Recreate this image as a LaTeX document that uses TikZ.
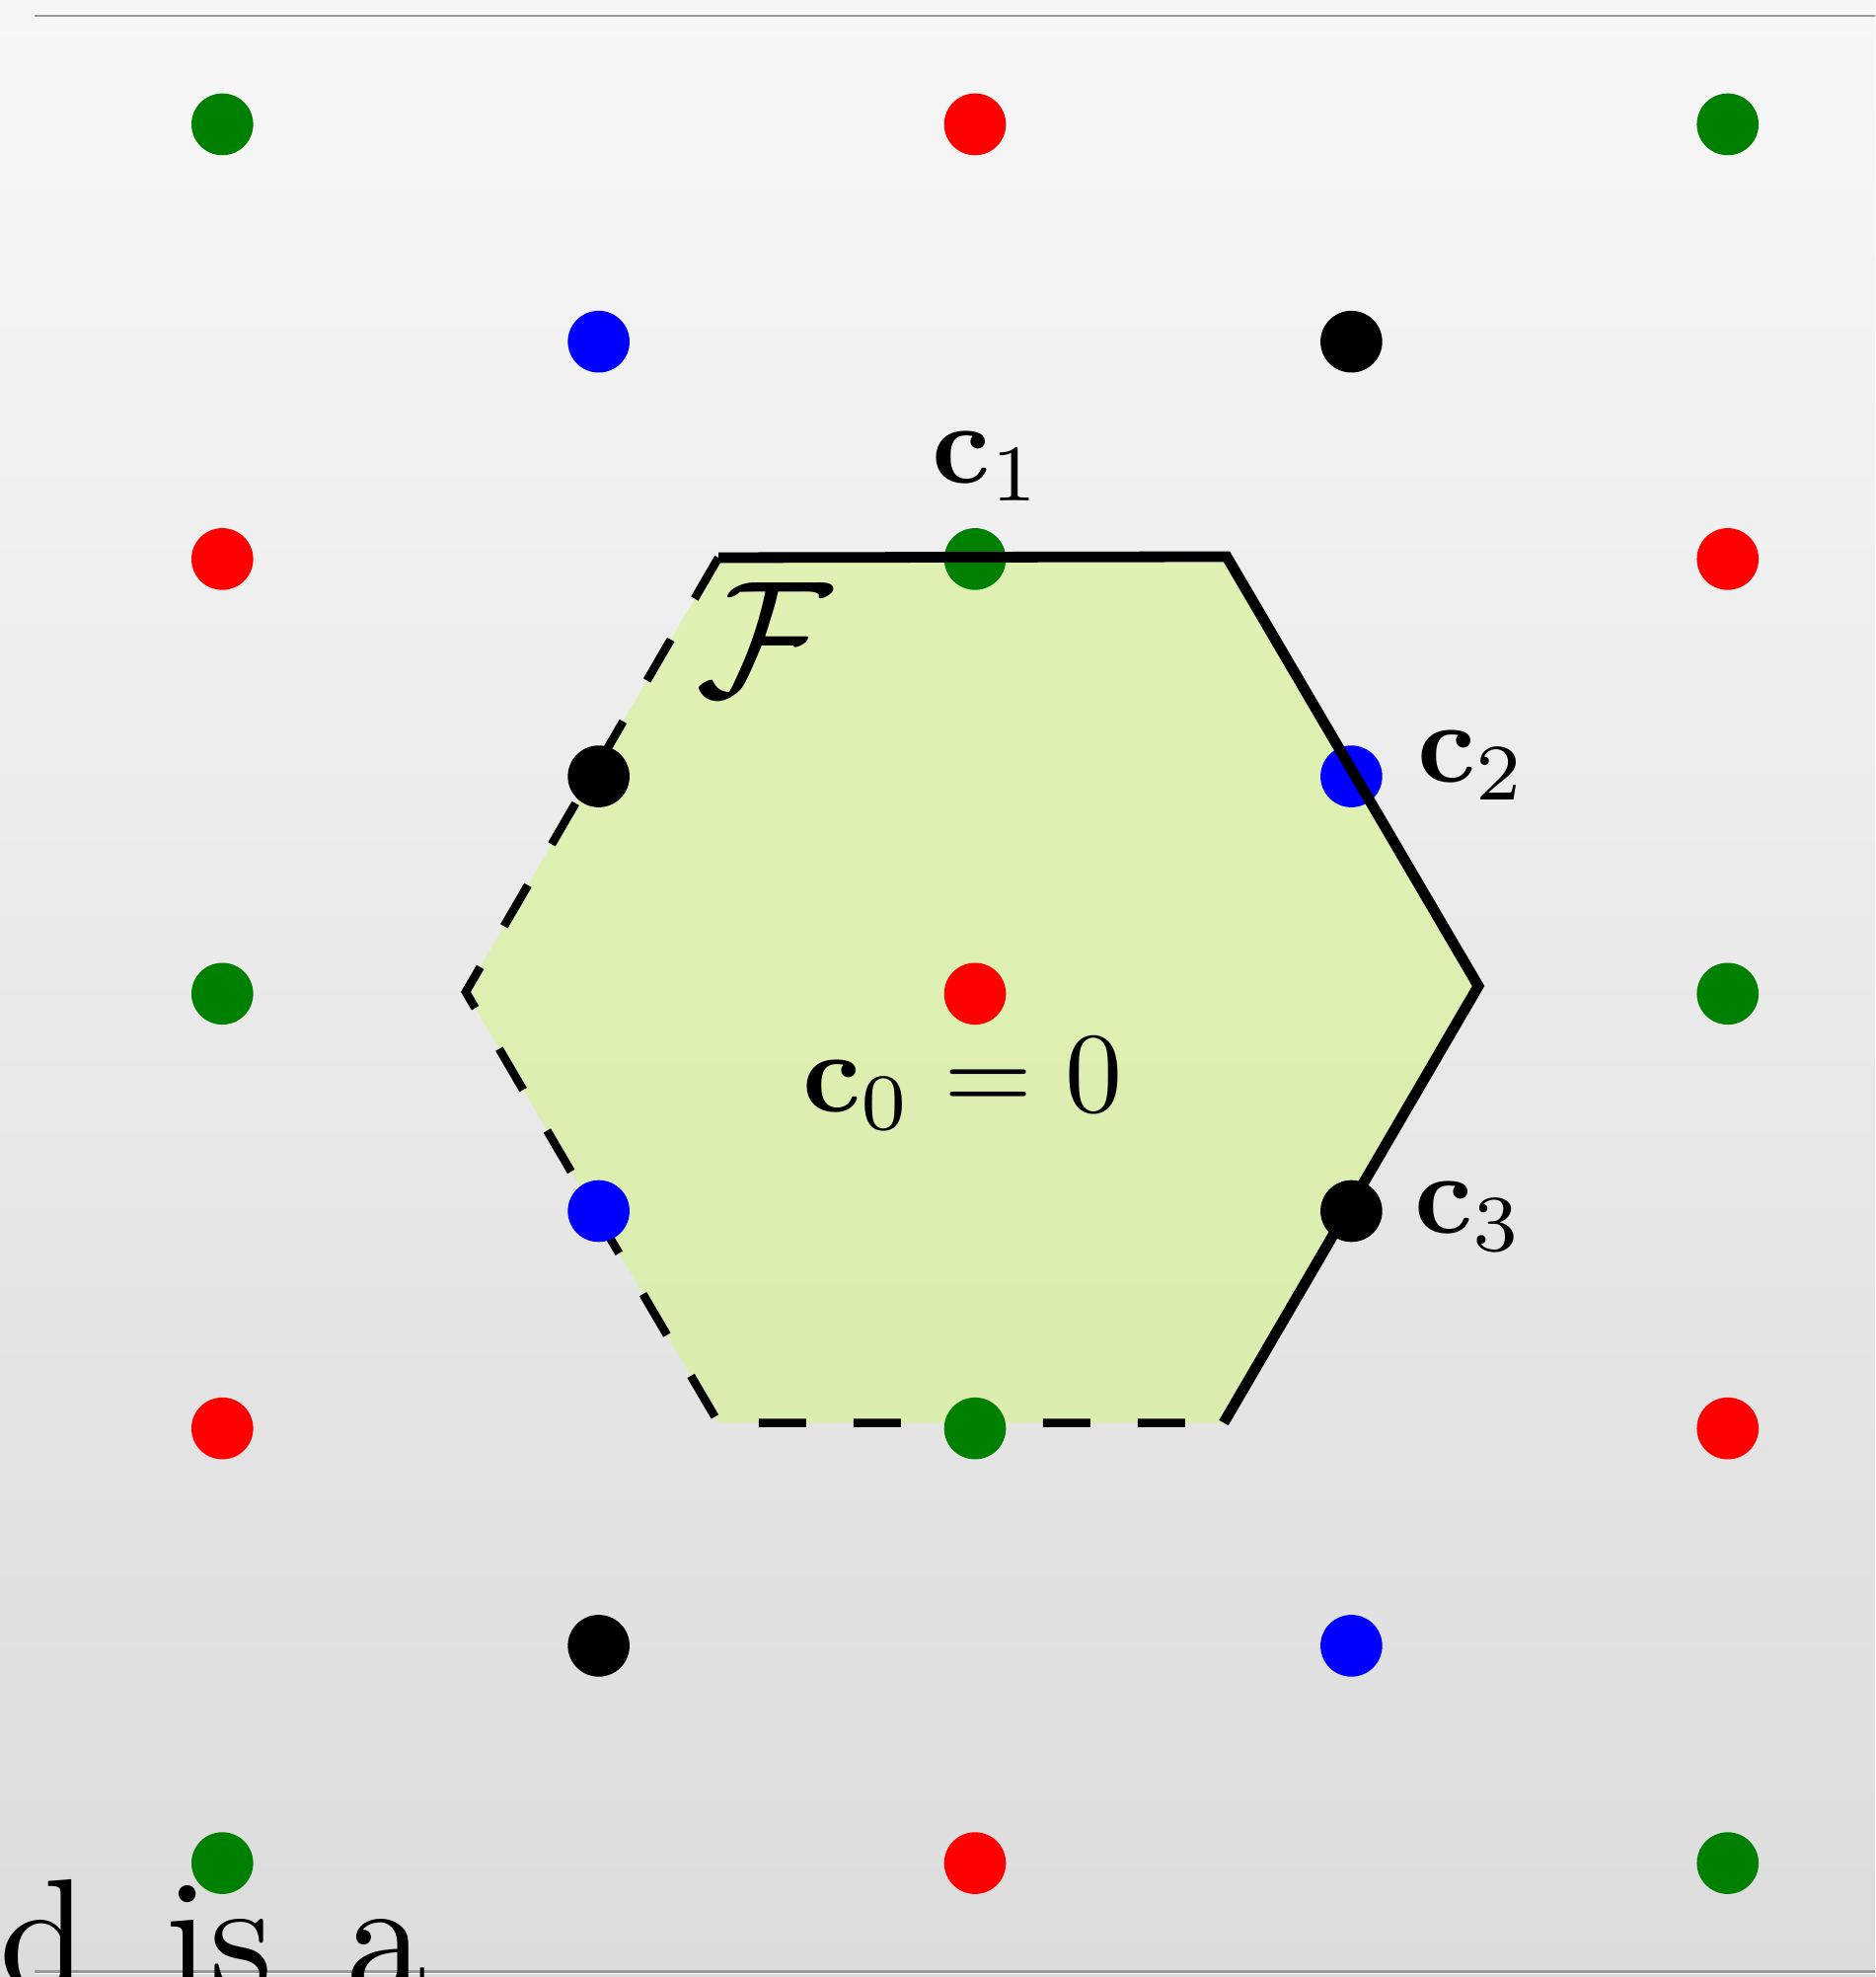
\documentclass[tikz,border=0pt]{standalone}
\definecolor{bgtop}{RGB}{247,247,247}
\definecolor{bgbot}{RGB}{220,220,220}
\definecolor{rulegray}{RGB}{153,153,153}
\definecolor{dotgreen}{RGB}{0,128,0}
\definecolor{dotred}{RGB}{255,0,0}
\definecolor{dotblue}{RGB}{0,0,255}
\definecolor{dotblack}{RGB}{0,0,0}
\definecolor{hexfill}{RGB}{213,245,140}
\tikzset{
  dot/.style={circle, inner sep=0pt, minimum size=6.26pt, draw=none},
  lab/.style={inner sep=0pt, anchor=base},
  bigtext/.style={inner sep=0pt, anchor=base west},
  solidedge/.style={line width=1.08pt, line join=miter, black},
  dashedge/.style={line width=0.85pt, line join=miter, black, dash pattern=on 4.8pt off 4.8pt},
  rule/.style={line width=0.23pt, rulegray},
  whiterule/.style={line width=0.14pt, white}
}
\newcommand{\labsc}[1]{\scalebox{1.16}{#1}}
\newcommand{\txtsc}[1]{\scalebox{1.63}{#1}}
\begin{document}
\begin{tikzpicture}[x=0.1pt,y=-0.1pt]
\useasboundingbox (0,0) rectangle (1900,2003);
\shade[top color=bgtop, bottom color=bgbot] (0,0) rectangle (1900,2003);
% rules
\coordinate (rt0) at (35,16.2);
\coordinate (rt1) at (1900,16.2);
\coordinate (rb0) at (35,1997.4);
\coordinate (rb1) at (1900,1997.4);
\draw[whiterule] (35,14.3) -- (1900,14.3);
\draw[rule] (rt0) -- (rt1);
\draw[whiterule] (35,1999.6) -- (1900,1999.6);
\draw[rule] (rb0) -- (rb1);
% hexagon
\coordinate (TL) at (728,565);
\coordinate (TR) at (1243,564);
\coordinate (R) at (1498,999);
\coordinate (BR) at (1240,1441.5);
\coordinate (BL) at (728,1441.5);
\coordinate (L) at (472,1005);
\fill[hexfill, fill opacity=0.6] (TL) -- (TR) -- (R) -- (BR) -- (BL) -- (L) -- cycle;
\draw[dashedge] (TL) -- (L) -- (BL) -- (BR);
% lattice dots
\foreach \i/\j/\c in {0/0/dotgreen,2/0/dotred,4/0/dotgreen,
  1/1/dotblue,3/1/dotblack,
  0/2/dotred,2/2/dotgreen,4/2/dotred,
  1/3/dotblack,3/3/dotblue,
  0/4/dotgreen,2/4/dotred,4/4/dotgreen,
  1/5/dotblue,3/5/dotblack,
  0/6/dotred,2/6/dotgreen,4/6/dotred,
  1/7/dotblack,3/7/dotblue,
  0/8/dotgreen,2/8/dotred,4/8/dotgreen}
  \node[dot, fill=\c] (p-\i-\j) at ({225.3+381.35*\i},{126+220.2*\j}) {};
\draw[solidedge] (BR) -- (R) -- (TR) -- (TL);
% labels
\node[lab] (c1) at (1000.5,490) {\labsc{$\mathbf{c}_1$}};
\node[lab] (c2) at (1492,793) {\labsc{$\mathbf{c}_2$}};
\node[lab] (c3) at (1489,1250) {\labsc{$\mathbf{c}_3$}};
\node[lab] (c0) at (975.4,1126.7) {\labsc{$\mathbf{c}_0=0$}};
\node[lab] (F) at (774,706) {\scalebox{1.68}{$\mathcal{F}$}};
% bottom text
\node[bigtext] (w1) at (-2.6,2017) {\txtsc{d}};
\node[bigtext] (w2) at (165,2017) {\txtsc{is}};
\node[bigtext] (w3) at (349,2017) {\txtsc{a}};
\end{tikzpicture}
\end{document}
